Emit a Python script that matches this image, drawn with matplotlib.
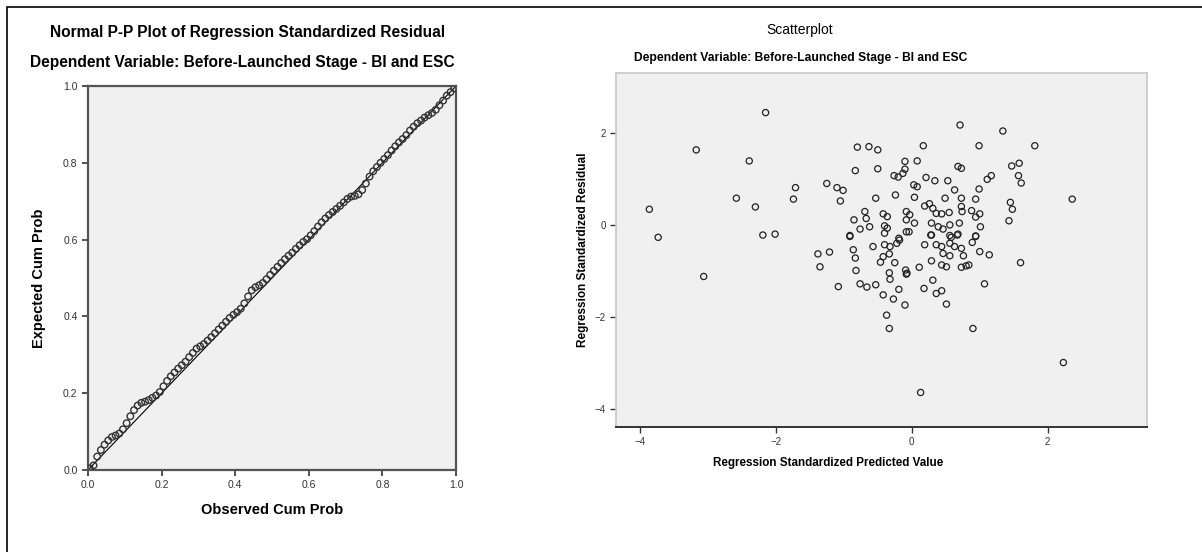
import matplotlib.pyplot as plt
from matplotlib.patches import Rectangle

plt.rcParams['font.family'] = ['Liberation Sans', 'DejaVu Sans']

# P-P plot: observed vs expected cumulative probability
observed_cum = [0.005, 0.015, 0.025, 0.035, 0.045, 0.055, 0.065, 0.075, 0.085, 0.095,
                0.105, 0.115, 0.125, 0.135, 0.145, 0.155, 0.165, 0.175, 0.185, 0.195,
                0.205, 0.215, 0.225, 0.235, 0.245, 0.255, 0.265, 0.275, 0.285, 0.295,
                0.305, 0.315, 0.325, 0.335, 0.345, 0.355, 0.365, 0.375, 0.385, 0.395,
                0.405, 0.415, 0.425, 0.435, 0.445, 0.455, 0.465, 0.475, 0.485, 0.495,
                0.505, 0.515, 0.525, 0.535, 0.545, 0.555, 0.565, 0.575, 0.585, 0.595,
                0.605, 0.615, 0.625, 0.635, 0.645, 0.655, 0.665, 0.675, 0.685, 0.695,
                0.705, 0.715, 0.725, 0.735, 0.745, 0.755, 0.765, 0.775, 0.785, 0.795,
                0.805, 0.815, 0.825, 0.835, 0.845, 0.855, 0.865, 0.875, 0.885, 0.895,
                0.905, 0.915, 0.925, 0.935, 0.945, 0.955, 0.965, 0.975, 0.985, 0.995]
expected_cum = [0.004, 0.012, 0.035, 0.052, 0.066, 0.077, 0.086, 0.090, 0.095, 0.106,
                0.122, 0.140, 0.156, 0.168, 0.175, 0.178, 0.182, 0.188, 0.194, 0.203,
                0.218, 0.232, 0.244, 0.254, 0.264, 0.273, 0.282, 0.294, 0.305, 0.316,
                0.322, 0.328, 0.337, 0.346, 0.356, 0.366, 0.376, 0.386, 0.396, 0.404,
                0.411, 0.420, 0.434, 0.452, 0.468, 0.476, 0.481, 0.487, 0.497, 0.508,
                0.519, 0.529, 0.539, 0.549, 0.558, 0.566, 0.576, 0.585, 0.594, 0.601,
                0.611, 0.622, 0.634, 0.645, 0.655, 0.664, 0.672, 0.680, 0.688, 0.697,
                0.706, 0.712, 0.714, 0.718, 0.729, 0.746, 0.764, 0.778, 0.789, 0.800,
                0.810, 0.820, 0.832, 0.843, 0.853, 0.862, 0.872, 0.884, 0.894, 0.903,
                0.910, 0.918, 0.924, 0.930, 0.938, 0.950, 0.962, 0.975, 0.984, 0.994]

# Scatterplot: standardized predicted value vs standardized residual
pred_std = [-2.15, -3.17, -2.39, -1.71, -1.74, -2.58, -2.30, -3.86, -3.73, -0.80,
            -0.63, -0.50, -0.83, -0.50, -1.25, -1.10, -1.01, -1.05, -0.53, -0.24,
            -0.10, -0.10, -0.26, -0.20, -0.13, -0.69, -0.67, -0.85, -0.76, -0.62,
            -0.42, -0.36, -0.40, -0.36, -0.40, -0.08, -0.08, -0.08, -0.19, -0.91,
            -2.19, -2.01,
            0.71, 1.34, 0.17, 0.99, 1.81, 0.08, 0.68, 0.73, 1.47, 1.58,
            1.57, 1.61, 1.17, 1.11, 0.21, 0.34, 0.53, 0.03, 0.08, 0.99,
            0.63, 0.04, 0.49, 0.73, 0.94, 2.36, 1.45, 1.48, 1.43, 0.19,
            0.26, 0.31, 0.36, 0.44, 0.55, 0.73, 0.74, 0.88, 1.00, 0.94,
            -0.03, 0.04, -0.04, 0.29, 0.39, 0.46, 0.56, 0.70, 1.01, 0.28,
            0.56, 0.68, 0.94,
            -3.06, -1.38, -1.21, -1.35, -1.08, -0.91, -0.86, -0.83, -0.82, -0.57,
            -0.76, -0.66, -0.53, -0.42, -0.27, -0.10, -0.19, -0.37, -0.33, -0.46,
            -0.42, -0.33, -0.40, -0.32, -0.25, -0.33, -0.32, -0.22, -0.18, -0.09,
            -0.08,
            0.19, 0.29, 0.36, 0.44, 0.56, 0.58, 0.67, 0.63, 0.73, 0.76,
            0.89, 0.94, 1.00, 1.14, 1.60, 0.46, 0.56, 0.29, 0.11, -0.07,
            0.44, 0.51, 0.73, 0.80, 0.84, 1.07, 0.31, 0.18, 0.36, 0.44,
            0.51, 0.90, 2.23, 0.13]
resid_std = [2.44, 1.63, 1.39, 0.81, 0.56, 0.58, 0.39, 0.34, -0.27, 1.69,
             1.70, 1.63, 1.18, 1.22, 0.90, 0.81, 0.75, 0.52, 0.58, 0.65,
             1.38, 1.21, 1.07, 1.04, 1.12, 0.29, 0.14, 0.11, -0.09, -0.04,
             0.24, 0.18, -0.02, -0.07, -0.18, 0.29, 0.11, -0.15, -0.29, -0.23,
             -0.22, -0.20,
             2.17, 2.04, 1.72, 1.72, 1.72, 1.39, 1.27, 1.23, 1.28, 1.34,
             1.07, 0.91, 1.07, 0.99, 1.03, 0.96, 0.96, 0.87, 0.83, 0.78,
             0.76, 0.60, 0.58, 0.58, 0.56, 0.56, 0.49, 0.34, 0.09, 0.41,
             0.46, 0.36, 0.25, 0.24, 0.27, 0.40, 0.29, 0.31, 0.24, 0.17,
             0.22, 0.04, -0.15, 0.04, -0.04, -0.09, 0.00, 0.04, -0.04, -0.22,
             -0.23, -0.20, -0.24,
             -1.12, -0.63, -0.59, -0.91, -1.34, -0.25, -0.54, -0.72, -0.99, -0.47,
             -1.28, -1.35, -1.30, -1.52, -1.61, -1.74, -1.40, -1.96, -2.25, -0.81,
             -0.69, -0.63, -0.43, -0.47, -0.82, -1.04, -1.18, -0.40, -0.33, -0.98,
             -1.07,
             -0.43, -0.22, -0.43, -0.47, -0.40, -0.27, -0.22, -0.47, -0.51, -0.67,
             -0.38, -0.25, -0.58, -0.65, -0.82, -0.62, -0.67, -0.78, -0.92, -1.05,
             -0.87, -0.91, -0.92, -0.89, -0.87, -1.28, -1.20, -1.38, -1.49, -1.43,
             -1.72, -2.25, -2.99, -3.64]

W, H = 1202, 552
fig = plt.figure(figsize=(W / 100, H / 100), dpi=100)
bg = '#f0f0f0'

# outer frame
fig.patches.append(Rectangle((7 / W, -0.1), 1.2, 1.1 - 7 / H, transform=fig.transFigure,
                             fill=False, edgecolor='black', linewidth=1.2))

# ---- left: P-P plot
ax1 = fig.add_axes([88 / W, 1 - 470 / H, 368 / W, 384 / H])
ax1.set_facecolor(bg)
ax1.plot([0, 1], [0, 1], color='black', linewidth=0.8)
ax1.scatter(observed_cum, expected_cum, s=22, facecolors='none', edgecolors='#333333',
            linewidths=1.0, zorder=3)
ax1.set_xlim(0, 1)
ax1.set_ylim(0, 1)
ticks = [0.0, 0.2, 0.4, 0.6, 0.8, 1.0]
ax1.set_xticks(ticks)
ax1.set_yticks(ticks)
ax1.set_xticklabels(['%.1f' % t for t in ticks])
ax1.set_yticklabels(['%.1f' % t for t in ticks])
ax1.tick_params(labelsize=7.5, colors='#333333', length=4, width=1.2)
for sp in ax1.spines.values():
    sp.set_color('#555555')
    sp.set_linewidth(1.6)
ax1.set_xlabel('Observed Cum Prob', fontsize=10.5, fontweight='bold', labelpad=9)
ax1.set_ylabel('Expected Cum Prob', fontsize=10.5, fontweight='bold', labelpad=12)

fig.text(248 / W, 1 - 32 / H, 'Normal P-P Plot of Regression Standardized Residual',
         ha='center', va='center', fontsize=11.2, fontweight='bold')
fig.text(242 / W, 1 - 63 / H, 'Dependent Variable: Before-Launched Stage - BI and ESC',
         ha='center', va='center', fontsize=11.2, fontweight='bold')

# ---- right: scatterplot
ax2 = fig.add_axes([616 / W, 1 - 427 / H, 531 / W, 354 / H])
ax2.set_facecolor(bg)
ax2.scatter(pred_std, resid_std, s=20, facecolors='none', edgecolors='#222222',
            linewidths=0.9)
ax2.set_xlim(-4.35, 3.46)
ax2.set_ylim(-4.39, 3.30)
ax2.set_xticks([-4, -2, 0, 2])
ax2.set_yticks([-4, -2, 0, 2])
ax2.tick_params(labelsize=7, colors='#333333', length=4, width=1)
ax2.spines['bottom'].set_color('#333333')
ax2.spines['bottom'].set_linewidth(1.4)
for k in ['top', 'right', 'left']:
    ax2.spines[k].set_color('#c8c8c8')
    ax2.spines[k].set_linewidth(1.2)
ax2.set_xlabel('Regression Standardized Predicted Value', fontsize=8.4,
               fontweight='bold')
ax2.xaxis.set_label_coords(0.40, -0.085)
ax2.set_ylabel('Regression Standardized Residual', fontsize=8.5,
               fontweight='bold', labelpad=4)

fig.text(800 / W, 1 - 30 / H, 'Scatterplot', ha='center', va='center', fontsize=10)
fig.text(801 / W, 1 - 58 / H, 'Dependent Variable: Before-Launched Stage - BI and ESC',
         ha='center', va='center', fontsize=8.7, fontweight='bold')

fig.savefig('out.png', dpi=100)
